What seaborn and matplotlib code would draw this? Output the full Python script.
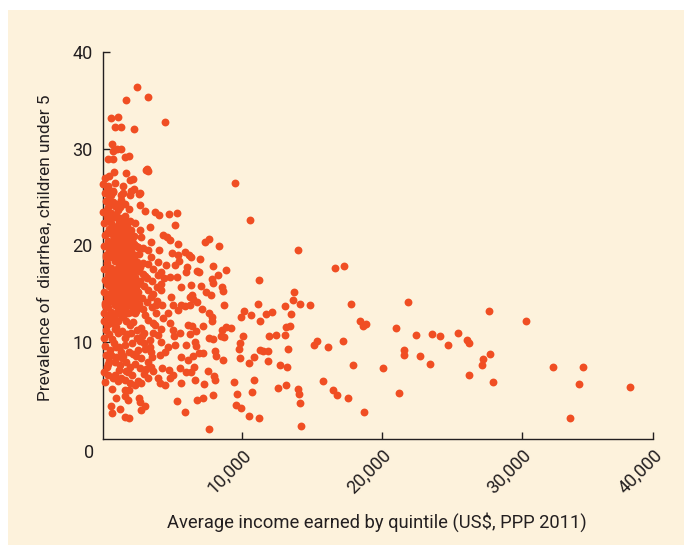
import matplotlib
matplotlib.use("Agg")
import matplotlib.pyplot as plt
from matplotlib.patches import Rectangle
import pandas as pd
import seaborn as sns

# Average income per quintile (US$, PPP 2011) and under-5 diarrhea prevalence (%)
income_high = [9500, 10550, 14000, 16670, 17260, 11230, 13740, 13620, 14100, 14870,
               17770, 21890, 27680, 30310, 11110, 13050, 13460, 12120, 11720, 11280,
               10640, 10130, 9890, 13150, 13400, 18460, 18650, 18870, 20980, 22450,
               23580, 24170, 24740, 25420, 26100, 26240, 11950, 12450, 13080, 10050,
               9830, 9790, 9860, 10870, 10510, 11240, 11520, 11880, 11880, 13300,
               12720, 13200, 15130, 15380, 16120, 17230, 17920, 20050, 21550, 21610,
               22730, 23420, 21200, 27200, 27170, 27720, 26200, 27940, 32220, 34410,
               34100, 37730, 33480, 15750, 16480, 16790, 17580, 18740, 14000, 14050,
               14120, 14230, 12550, 13100, 10850, 10700, 9650, 9420, 9580, 9920,
               10520, 11220]
prev_high = [26.5, 22.6, 19.5, 17.7, 17.9, 16.4, 15.2, 14.4, 14.0, 13.9,
             14.0, 14.2, 13.2, 12.2, 14.0, 13.75, 12.9, 13.1, 12.9, 12.2,
             12.8, 13.2, 12.65, 11.6, 11.7, 12.2, 11.7, 11.9, 11.5, 10.8,
             10.9, 10.6, 9.7, 11.0, 10.2, 9.9, 10.6, 10.8, 10.7, 10.6,
             9.9, 9.35, 8.4, 8.5, 7.85, 9.2, 9.1, 9.05, 8.05, 9.3,
             7.65, 7.4, 9.7, 10.1, 9.5, 10.1, 7.7, 7.3, 8.7, 9.2,
             8.55, 7.8, 4.8, 8.3, 7.6, 8.8, 6.6, 5.9, 7.4, 7.4,
             5.65, 5.4, 2.2, 5.95, 5.1, 4.5, 4.2, 2.8, 5.2, 4.6,
             3.7, 1.3, 5.25, 5.6, 6.1, 4.9, 4.7, 5.9, 3.55, 3.2,
             2.35, 2.2]

income_mid = [7360, 7650, 8310, 6330, 7000, 7930, 8860, 6740, 6910, 8270,
              7810, 7880, 7050, 8550, 8620, 7430, 7790, 6430, 6500, 6740,
              8670, 7100, 7600, 7840, 7840, 7170, 6380, 6690, 8530, 8820,
              9220, 7600, 7930, 8480, 8720, 6640, 6670, 7170, 6880, 6500,
              8050, 8120, 8650, 6520, 7530, 7960, 8080, 6620, 7290, 7890,
              6790, 7170, 7620, 6260, 6260, 6300]
prev_mid = [20.35, 20.7, 19.95, 18.85, 18.6, 17.9, 17.5, 17.35, 17.25, 17.0,
            16.5, 16.1, 15.8, 15.75, 15.25, 15.15, 14.9, 14.9, 14.45, 14.2,
            13.8, 13.4, 13.0, 12.65, 12.15, 11.7, 11.7, 11.2, 11.25, 11.6,
            11.5, 10.4, 10.3, 10.6, 10.5, 10.05, 9.65, 8.9, 8.85, 8.6,
            9.05, 8.6, 8.15, 7.4, 7.05, 6.55, 6.1, 6.1, 5.7, 4.55,
            4.05, 4.2, 1.05, 13.9, 10.9, 6.95]

income_top = [2470, 3280, 1660, 4450, 580, 1090, 920, 1330, 2230, 700,
              1060, 1300, 770, 390, 730, 1590, 1900, 3090, 3250, 3210,
              850, 1660, 1970, 2160, 150, 460, 1470, 2250, 2610, 300,
              630, 1350, 1990, 10]
prev_top = [36.4, 35.3, 35.05, 32.75, 33.2, 33.3, 32.2, 32.2, 32.05, 30.5,
            30.0, 29.95, 29.75, 28.9, 28.9, 29.15, 29.25, 27.85, 27.65, 27.95,
            27.6, 27.45, 26.8, 26.9, 27.0, 27.15, 26.15, 25.8, 25.35, 25.7,
            25.2, 25.2, 25.2, 26.4]

income_upper = [2660, 3020, 3730, 4040, 4760, 5360, 5210, 3490, 4040, 4640,
                4330, 4810, 5400, 4970, 5400, 5930, 6190, 5500, 5160, 4570,
                4210, 3450, 4000, 6070, 6000, 4380, 4810, 5360, 5640, 6360,
                6240, 4880, 4210, 3490, 3850, 5070, 5640, 3020, 2660, 3260,
                2900, 2260, 2780, 3380, 2660, 2060, 1940, 1580, 2300, 1110,
                630, 1350, 150, 750, 1470, 2060, 2660]
prev_upper = [24.2, 23.6, 23.5, 23.15, 23.25, 23.4, 22.1, 20.35, 19.55, 20.9,
              21.1, 20.55, 20.2, 19.25, 19.05, 19.35, 19.0, 18.35, 17.95, 18.0,
              17.3, 18.85, 18.3, 17.8, 17.3, 16.6, 16.7, 16.7, 15.75, 15.9,
              14.7, 14.7, 15.4, 14.7, 13.85, 13.85, 13.85, 16.8, 17.8, 18.1,
              19.7, 20.2, 20.9, 21.95, 21.6, 21.6, 22.55, 23.0, 22.3, 23.7,
              24.4, 24.7, 25.4, 25.5, 25.4, 25.6, 25.4]

income_lower = [990, 1580, 1820, 630, 1230, 700, 1580, 1870, 2590, 2660,
                3020, 2730, 5330, 5880, 510, 990, 1350, 390, 870, 1230,
                1700, 1940, 2540, 3020, 3490, 2780, 3260, 3490, 2660, 2300,
                390, 750, 1110, 1580, 1940, 2300, 2780, 3260, 3970, 4090,
                4450, 4810, 5040, 4730, 5520, 5640, 6000, 4090, 4450, 4690,
                5160, 5600, 6120, 6000, 5120, 5040, 5520, 6120, 4810, 4330,
                3730, 3260, 3610, 3970, 2780, 3380, 2660, 2060, 1580, 1580,
                1110, 630, 990, 1940, 510, 1470, 2300, 3020, 3850, 4690,
                5400, 5880, 150, 1110, 2060]
prev_lower = [4.2, 4.4, 4.05, 3.4, 3.15, 2.65, 2.25, 2.15, 4.2, 3.85,
              3.4, 3.0, 3.95, 2.75, 9.2, 9.55, 9.0, 7.8, 8.0, 7.65,
              8.0, 7.45, 9.2, 9.35, 9.0, 8.35, 8.0, 7.45, 7.3, 7.8,
              6.6, 6.3, 5.95, 6.1, 5.8, 5.6, 5.75, 6.3, 6.3, 5.75,
              5.6, 6.3, 6.6, 7.15, 7.3, 5.75, 6.95, 8.7, 9.0, 9.55,
              9.7, 8.5, 8.15, 9.7, 10.6, 11.3, 10.95, 11.8, 11.95, 12.5,
              11.8, 12.3, 10.95, 10.75, 11.45, 10.25, 10.1, 10.95, 10.4, 9.7,
              10.95, 11.95, 11.6, 11.8, 12.8, 12.65, 13.0, 12.8, 13.0, 13.0,
              13.35, 13.7, 13.85, 13.85, 13.85]

income_core = [120, 210, 90, 180, 130, 240, 100, 200, 140, 60,
               230, 110, 260, 80, 150, 220, 100, 170,
               360, 420, 330, 450, 380, 350, 430, 370, 460, 340,
               410, 390,
               610, 560, 650, 590, 640, 570, 620, 660, 580, 630,
               680, 600, 690,
               830, 880, 860, 900, 820, 870, 910, 840, 890, 800,
               930, 860,
               1080, 1150, 1060, 1120, 1170, 1090, 1140, 1050, 1180, 1120,
               1200,
               1330, 1380, 1310, 1420, 1360, 1290, 1400, 1340, 1410, 1280,
               1390, 1370,
               1620, 1570, 1650, 1600, 1560, 1640, 1590, 1680, 1610, 1700,
               1660, 1630,
               1830, 1880, 1820, 1900, 1860, 1800, 1920, 1850, 1870, 1900,
               1850,
               2120, 2070, 2150, 2090, 2160, 2050, 2130, 2200, 2150, 2120,
               2370, 2320, 2400, 2340, 2390, 2310, 2420, 2450, 2400,
               2620, 2570, 2680, 2590, 2640, 2900, 2850, 2950, 2870, 2930,
               3000, 2950, 2980,
               3200, 3260, 3170, 3230, 3550, 3600, 3520, 3580, 3900, 3870,
               3950, 4250, 4200, 3600, 3560, 3620, 4200, 4230, 4180]
prev_core = [13.0, 14.1, 15.2, 16.4, 17.6, 18.8, 19.9, 21.1, 22.3, 23.5,
             24.6, 12.2, 11.3, 10.4, 9.6, 8.7, 6.9, 5.9,
             12.6, 13.6, 14.7, 15.8, 17.0, 18.2, 19.4, 20.5, 21.7, 22.9,
             24.0, 26.2,
             13.1, 14.3, 15.4, 16.5, 17.7, 18.8, 20.0, 21.2, 22.3, 23.4,
             10.3, 8.7, 5.2,
             12.6, 13.8, 14.9, 16.0, 17.2, 18.4, 19.5, 20.7, 21.8, 22.9,
             24.1, 26.5,
             13.3, 14.5, 15.6, 16.8, 17.9, 19.1, 20.2, 21.4, 22.5, 12.2,
             7.1,
             12.8, 14.0, 15.1, 16.3, 17.4, 18.6, 19.7, 20.9, 22.0, 24.0,
             11.2, 8.4,
             13.5, 14.6, 15.8, 16.9, 18.1, 19.2, 20.4, 21.5, 24.3, 12.2,
             7.0, 5.1,
             13.0, 14.2, 15.3, 16.5, 17.6, 18.8, 19.9, 21.1, 23.8, 9.0,
             6.9,
             13.7, 14.8, 16.0, 17.1, 18.3, 19.4, 20.6, 12.1, 8.8, 6.6,
             13.2, 14.4, 15.5, 16.7, 17.8, 19.0, 20.0, 10.4, 8.6,
             14.0, 15.2, 16.3, 17.4, 19.1, 13.4, 14.6, 15.8, 17.1, 18.2,
             11.0, 9.9, 6.7,
             14.2, 15.4, 16.6, 19.5, 13.6, 15.0, 16.3, 17.6, 14.3, 15.7,
             17.0, 13.8, 16.0, 12.0, 8.5, 7.0, 10.0, 7.3, 11.4]

income_fill = [270, 490, 300, 450, 280, 480, 320, 470, 290, 440,
               760, 720, 780, 740, 770, 710, 790, 730, 750, 760,
               1010, 980, 1030, 990, 1020, 970, 1040, 1000, 1010, 980, 1030,
               1260, 1230, 1280, 1240, 1270, 1220, 1290, 1250, 1260,
               1510, 1480, 1530, 1490, 1520, 1470, 1540, 1500, 1510,
               1760, 1730, 1780, 1740, 1770, 1720, 1790, 1750,
               2010, 1980, 2030, 1990, 2020, 1970, 2040, 2000,
               2260, 2230, 2280, 2240, 2270, 2250,
               2510, 2480, 2530, 2490, 2520,
               300, 450, 700, 900, 800, 1200, 1000, 500, 300, 1500,
               1750, 2100, 2450, 1300, 900, 1900, 2550, 2800, 3100, 3400]
prev_fill = [13.6, 15.0, 16.0, 17.5, 19.0, 20.0, 21.3, 22.6, 23.7, 25.0,
             12.9, 14.5, 15.9, 17.4, 18.9, 20.4, 21.7, 23.0, 24.5, 25.6,
             13.0, 14.2, 15.3, 16.5, 17.6, 18.7, 19.8, 20.9, 22.0, 23.2, 24.3,
             13.6, 14.8, 16.0, 17.1, 18.2, 19.3, 20.5, 21.6, 22.8,
             13.2, 14.3, 15.5, 16.6, 17.8, 18.9, 20.0, 21.2, 22.5,
             13.8, 14.9, 16.1, 17.2, 18.4, 19.5, 20.7, 22.0,
             13.1, 14.3, 15.5, 16.7, 17.9, 19.0, 20.1, 21.4,
             13.8, 15.0, 16.3, 17.4, 18.6, 21.0,
             13.5, 14.7, 16.0, 18.3, 19.8,
             11.8, 10.9, 12.2, 11.4, 9.9, 9.5, 8.5, 8.1, 7.4, 8.6,
             10.9, 9.9, 11.3, 6.3, 6.6, 5.1, 6.0, 10.6, 7.2, 9.5]

x_ticks = [10000, 20000, 30000, 39400]
x_tick_labels = ["10,000", "20,000", "30,000", "40,000"]
y_ticks = [10, 20, 30, 40]
y_tick_labels = ["10", "20", "30", "40"]

income = (income_high + income_mid + income_top + income_upper + income_lower
          + income_core + income_fill)
prevalence = (prev_high + prev_mid + prev_top + prev_upper + prev_lower
              + prev_core + prev_fill)
df = pd.DataFrame({"income": income, "prevalence": prevalence})

CREAM = "#FDF2DC"
DOT = "#F04E23"
INK = "#231F20"

sns.set_theme(style="ticks")
plt.rcParams["font.family"] = ["Roboto", "DejaVu Sans"]

fig = plt.figure(figsize=(6.84, 5.45), dpi=100, facecolor="white")
fig.patches.append(Rectangle((8 / 684, 0), 1, 535 / 545, transform=fig.transFigure,
                             facecolor=CREAM, edgecolor="none", zorder=-10))
ax = fig.add_axes([102.5 / 684, 106 / 545, 550.5 / 684, 387 / 545])
ax.set_facecolor("none")
ax.set_zorder(5)

sns.scatterplot(data=df, x="income", y="prevalence", color=DOT, s=32,
                linewidth=0, alpha=1, ax=ax, legend=False, clip_on=False, zorder=3)

ax.set_xlim(0, 39400)
ax.set_ylim(0, 40)
ax.set_xticks(x_ticks)
ax.set_xticklabels(x_tick_labels, rotation=45, ha="right", va="top",
                   rotation_mode="anchor")
ax.set_yticks(y_ticks)
ax.set_yticklabels(y_tick_labels)
ax.tick_params(direction="in", length=5, width=1.0, color=INK, labelcolor=INK,
               labelsize=13)
ax.tick_params(axis="y", pad=7)
ax.tick_params(axis="x", pad=5)
sns.despine(ax=ax)
for side in ("left", "bottom"):
    ax.spines[side].set_linewidth(1.0)
    ax.spines[side].set_color(INK)

ax.text(-0.025, -0.036, "0", transform=ax.transAxes, ha="center", va="center",
        fontsize=13, color=INK)

ax.set_xlabel("Average income earned by quintile (US$, PPP 2011)", fontsize=13.2,
              color=INK)
ax.set_ylabel("Prevalence of  diarrhea, children under 5", fontsize=12.4, color=INK)
ax.xaxis.set_label_coords(0.498, -0.2145)
ax.yaxis.set_label_coords(-0.1045, 0.495)
ax.xaxis.label.set_va("center")
ax.yaxis.label.set_va("center")

fig.savefig("out.png", dpi=100, facecolor=fig.get_facecolor())
